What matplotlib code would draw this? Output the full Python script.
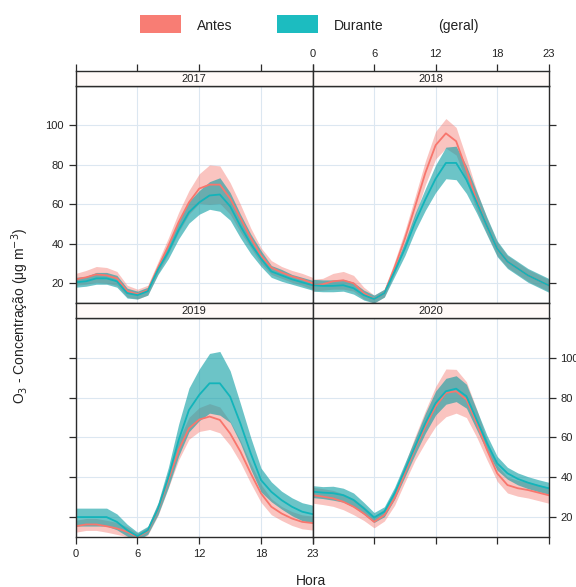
import matplotlib
matplotlib.use('Agg')
import matplotlib.pyplot as plt
from matplotlib.patches import Rectangle

plt.rcParams['font.family'] = ['Liberation Sans', 'DejaVu Sans']

hours = list(range(24))
years = ['2017', '2018', '2019', '2020']

# hourly means and confidence half-widths, before (antes) and during (durante)
antes_2017 = [22, 23, 24.5, 24, 22.5, 16, 14.5, 16.5, 28, 39, 51, 61, 68, 70, 70, 63, 53, 43, 34, 28, 25.5, 23.5, 22, 20]
antes_ci_2017 = [3, 3.5, 4, 4, 3.5, 3, 2.5, 2.5, 3, 4, 5, 6, 7.5, 10, 9.5, 8, 7, 5, 4, 3.5, 3, 3, 3, 3]
durante_2017 = [20.5, 21, 22.5, 22.5, 21, 15, 14, 16, 27, 36, 47, 56, 61, 64.5, 65, 59, 49, 40, 32.5, 26, 24, 22, 20.5, 19]
durante_ci_2017 = [2.5, 2.5, 3, 3, 3, 2.5, 2, 2, 2.5, 3.5, 4.5, 5.5, 6, 7, 8.5, 7, 6, 5, 4, 3, 3, 2.5, 2.5, 2.5]

antes_2018 = [19, 19.5, 21, 21.5, 20, 15, 12, 15, 28, 42.5, 59, 76, 90, 96, 92, 77.5, 62, 49, 37.5, 31, 27.5, 24, 21.5, 19]
antes_ci_2018 = [3, 3, 4, 4.5, 4, 3, 2, 2, 3, 4, 5, 6, 7, 7.5, 7, 6, 5, 4, 3.5, 3, 3, 3, 3, 3]
durante_2018 = [19, 18.7, 18.7, 19, 17.5, 14, 12, 15, 26, 37.5, 51, 62.5, 73, 81, 81, 72.5, 61, 49, 37.5, 31, 27.5, 24, 21.5, 19]
durante_ci_2018 = [3, 3, 3, 3, 3, 2.5, 2, 2, 2.5, 3.5, 4.5, 5.5, 7, 8, 8.5, 7, 5.5, 4.5, 4, 3.5, 3.5, 3.5, 3.5, 3.5]

antes_2019 = [15.4, 16.3, 16.3, 15.4, 14.3, 12.6, 10, 13, 23.8, 38.6, 53.7, 64.6, 69, 70.5, 68.8, 62, 52.9, 42, 31.9, 25.2, 21.8, 19.3, 17.6, 17]
antes_ci_2019 = [3, 3, 3, 3, 3, 2.5, 2, 2, 3, 4, 5, 5.5, 6, 6.5, 6.5, 6, 5.5, 5, 4.5, 4, 3.5, 3.5, 3.5, 3.5]
durante_2019 = [20, 20, 20, 20, 17.6, 13.4, 10.4, 13.4, 24.3, 40, 58.7, 73.8, 81.4, 87.2, 87.2, 80.5, 67, 52, 38.6, 32.7, 28.5, 25.2, 22.7, 21.5]
durante_ci_2019 = [4.5, 4.5, 4.5, 4.5, 4, 3, 2, 2, 3, 5, 8, 11, 13, 15, 16, 13, 10, 8, 6, 5, 4.5, 4.5, 4.5, 4.5]

antes_2020 = [31, 30.3, 29.4, 27.7, 25.2, 21.8, 17.6, 21, 29.4, 42, 54.6, 65.5, 75.6, 82.4, 83.2, 79, 67.2, 53.8, 42, 36.1, 34.5, 33.6, 32.3, 31]
antes_ci_2020 = [4, 4, 4, 4, 4, 3.5, 3, 3, 3.5, 4.5, 6, 8, 10, 12, 11, 9, 7, 5, 4, 4, 4, 4, 4, 4]
durante_2020 = [32.8, 32.3, 32, 31, 28.6, 24.4, 19.8, 22.7, 32, 43.7, 55.5, 67.2, 77.3, 83.2, 84.5, 80.7, 68.9, 57.1, 47, 42, 39.2, 37.3, 35.8, 34.5]
durante_ci_2020 = [3, 3, 3.5, 3.5, 3.5, 3, 2.5, 2.5, 3, 3.5, 4, 5, 6, 6.5, 6.5, 6, 5, 4, 3.5, 3, 3, 3, 3, 3]

antes = [antes_2017, antes_2018, antes_2019, antes_2020]
antes_ci = [antes_ci_2017, antes_ci_2018, antes_ci_2019, antes_ci_2020]
durante = [durante_2017, durante_2018, durante_2019, durante_2020]
durante_ci = [durante_ci_2017, durante_ci_2018, durante_ci_2019, durante_ci_2020]

x_ticks = [0, 6, 12, 18, 23]
y_ticks = [20, 40, 60, 80, 100]

RED = '#F8766D'
RED_BAND = '#F4736A'
TEAL = '#13B4BA'
TEAL_BAND = '#0A9DA3'
FRAME = '#2b2b2b'
GRID = '#dce7f1'

W, H = 576, 587
fig = plt.figure(figsize=(W / 100, H / 100), dpi=100)


def fx(px):
    return px / W


def fy(px):
    return 1 - px / H


col_x = [75.7, 312.5]
col_w = [236.8, 236.0]
row_top = [86, 318]
row_bot = [303, 537]
strip_h = 15


def style_frame(ax):
    for s in ax.spines.values():
        s.set_color(FRAME)
        s.set_linewidth(1.0)
    ax.tick_params(colors=FRAME, labelcolor='#222222', labelsize=8,
                   length=5, width=0.9, direction='out')


def draw_band(ax, mean, ci, band_color, line_color, alpha):
    lo = [m - c for m, c in zip(mean, ci)]
    hi = [m + c for m, c in zip(mean, ci)]
    ax.fill_between(hours, lo, hi, color=band_color, alpha=alpha, linewidth=0)
    ax.plot(hours, mean, color=line_color, linewidth=1.3)


for i, year in enumerate(years):
    r, c = divmod(i, 2)
    left = fx(col_x[c])
    width = col_w[c] / W
    bottom = fy(row_bot[r])
    height = (row_bot[r] - row_top[r]) / H
    ax = fig.add_axes([left, bottom, width, height])
    ax.set_xlim(0, 23)
    ax.set_ylim(10, 120)
    ax.set_xticks(x_ticks)
    ax.set_yticks(y_ticks)
    for xv in x_ticks:
        ax.axvline(xv, color=GRID, linewidth=0.8, zorder=0)
    for yv in y_ticks:
        ax.axhline(yv, color=GRID, linewidth=0.8, zorder=0)

    draw_band(ax, antes[i], antes_ci[i], RED_BAND, RED, 0.42)
    draw_band(ax, durante[i], durante_ci[i], TEAL_BAND, TEAL, 0.6)
    style_frame(ax)

    # alternating lattice axes
    if c == 0:
        ax.yaxis.tick_left()
        ax.tick_params(axis='y', labelleft=(r == 0))
    else:
        ax.yaxis.tick_right()
        ax.tick_params(axis='y', labelright=(r == 1))
    if r == 1:
        ax.tick_params(axis='x', bottom=True, labelbottom=(c == 0))
    else:
        ax.tick_params(axis='x', bottom=False, labelbottom=False)

    # strip with the year above each panel
    sax = fig.add_axes([left, fy(row_top[r]), width, strip_h / H])
    sax.set_xlim(0, 23)
    sax.set_ylim(0, 1)
    sax.set_facecolor('#fffaf8')
    sax.set_yticks([])
    sax.text(11.5, 0.45, year, ha='center', va='center', fontsize=8, color='#222222')
    style_frame(sax)
    if r == 0:
        sax.set_xticks(x_ticks)
        sax.xaxis.tick_top()
        sax.tick_params(axis='x', labeltop=(c == 1))
    else:
        sax.set_xticks([])

# legend across the top
fig.add_artist(Rectangle((fx(140), fy(33)), 41 / W, 18 / H, transform=fig.transFigure,
                         facecolor=RED, edgecolor='none', alpha=0.95))
fig.text(fx(197), fy(26), 'Antes', ha='left', va='center', fontsize=10, color='#222222')
fig.add_artist(Rectangle((fx(277), fy(33)), 41 / W, 18 / H, transform=fig.transFigure,
                         facecolor='#1CBCC0', edgecolor='none'))
fig.text(fx(334), fy(26), 'Durante', ha='left', va='center', fontsize=10, color='#222222')
fig.text(fx(438), fy(26), '(geral)', ha='left', va='center', fontsize=10, color='#222222')

fig.text(fx(311), fy(581), 'Hora', ha='center', va='center', fontsize=10, color='#222222')
fig.text(fx(20), fy(316), 'O$_3$ - Concentração (μg m$^{-3}$)', rotation=90,
         ha='center', va='center', fontsize=10, color='#222222')

fig.savefig('out.png', dpi=100)
